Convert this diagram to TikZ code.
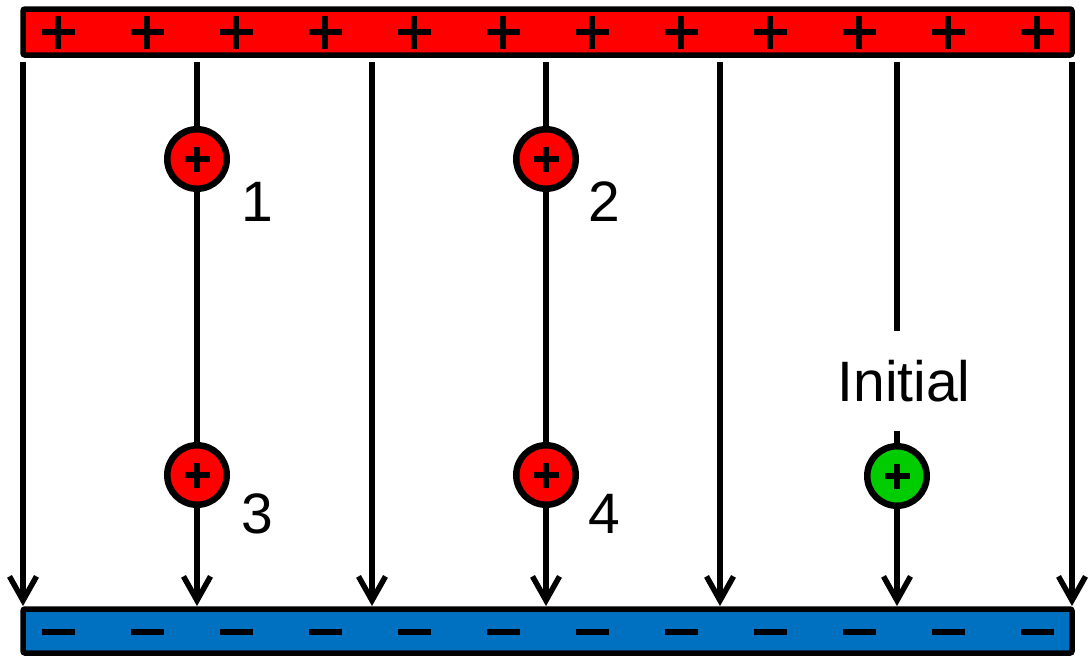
\documentclass[tikz,border=0pt]{standalone}
\usepackage{fontspec}
\setmainfont{Liberation Sans}
\usetikzlibrary{arrows.meta}
\definecolor{platered}{HTML}{FF0000}
\definecolor{plateblue}{HTML}{0070C0}
\definecolor{chargegreen}{HTML}{00CC00}
\begin{document}
\begin{tikzpicture}[x=1pt, y=-1pt, line width=5.5pt,
    charge/.style={circle, draw, line width=6.5pt, minimum size=59.5pt, inner sep=0pt},
    fieldline/.style={-{Straight Barb[length=24pt, width=27pt, line width=5.5pt]}},
    chargelabel/.style={inner sep=0pt, font=\fontsize{57}{60}\selectfont}]
        \useasboundingbox (0,0) rectangle (1089,657);

        % Draw the plates
        \draw[fill=platered, rounded corners=2pt] (23,9) rectangle (1072,55);
        \draw[fill=plateblue, rounded corners=2pt] (23,609) rectangle (1072,653);

        % Signs on the plates
        \foreach \k in {0,...,11} {
          \draw[line width=6.5pt] (58+89*\k-16.5,32) -- (58+89*\k+16.5,32);
          \draw[line width=6.5pt] (58+89*\k,15.5) -- (58+89*\k,48.5);
          \draw[line width=6.5pt] (58+89*\k-16.5,632) -- (58+89*\k+16.5,632);
        }

        % Ends of the field lines
        \foreach \x [count=\i] in {23,197,372,546,720,897,1072} {
          \coordinate (t\i) at (\x,62);
          \coordinate (b\i) at (\x,606);
        }

        % Plain field lines
        \foreach \i in {1,...,5,7}
          \draw[fieldline] (t\i) -- (b\i);

        % Charges on the lines
        \node[charge, fill=platered] (q1) at (197,159) {};
        \node[charge, fill=platered] (q2) at (546,159) {};
        \node[charge, fill=platered] (q3) at (197,475) {};
        \node[charge, fill=platered] (q4) at (546,475) {};

        % Initial charge, with the line broken round its label
        \node[chargelabel, inner xsep=0pt, inner ysep=26pt] (init) at (904,381) {Initial};
        \node[charge, fill=chargegreen] (qi) at (897,476) {};
        \draw (t6) -- (t6 |- init.north);
        \draw (init.south -| qi) -- (qi.north);
        \draw[fieldline] (qi.south) -- (b6);

        % Plus signs in the charges
        \foreach \q in {q1,q2,q3,q4,qi} {
          \draw[line width=6pt] ([xshift=-12.5pt]\q.center) -- ([xshift=12.5pt]\q.center);
          \draw[line width=6pt] ([yshift=-12.5pt]\q.center) -- ([yshift=12.5pt]\q.center);
        }

        % Numbers of the positions
        \node[chargelabel] (n1) at (257,202) {1};
        \node[chargelabel] (n2) at (604,202) {2};
        \node[chargelabel] (n3) at (257,514) {3};
        \node[chargelabel] (n4) at (604,514) {4};
      \end{tikzpicture}
\end{document}
